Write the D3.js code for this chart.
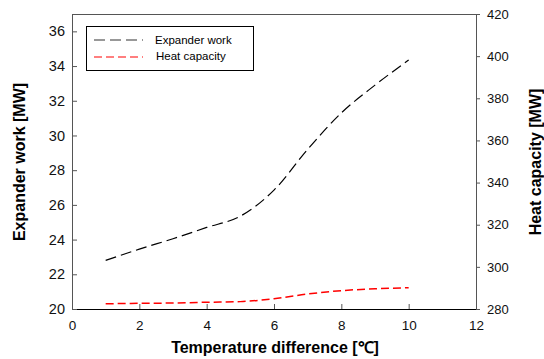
<!DOCTYPE html>
<html>
<head>
<meta charset="utf-8">
<script src="https://cdn.jsdelivr.net/npm/d3@7"></script>
<style>
  body { margin: 0; background: #fff; }
  text { font-family: "Liberation Sans", Arial, sans-serif; }
</style>
</head>
<body>
<div id="chart"></div>
<script>
// data
var tempDiff = [1, 2, 3, 4, 5, 6, 7, 8, 9, 10];
var expanderWork = [22.8, 23.45, 24.05, 24.7, 25.35, 26.85, 29.2, 31.3, 32.9, 34.35];
var heatCapacity = [282.5, 282.7, 282.85, 283.2, 283.5, 284.9, 287.1, 288.7, 289.6, 290.1];
var xTicks = [0, 2, 4, 6, 8, 10, 12];
var yLeftTicks = [20, 22, 24, 26, 28, 30, 32, 34, 36];
var yRightTicks = [280, 300, 320, 340, 360, 380, 400, 420];

var width = 544, height = 359;
var plotLeft = 72, plotRight = 476, plotTop = 14, plotBottom = 309;

var svg = d3.select('#chart').append('svg')
  .attr('width', width)
  .attr('height', height);

var x = d3.scaleLinear().domain([0, 12]).range([plotLeft, plotRight]);
var yL = d3.scaleLinear().domain([20, 37]).range([plotBottom, plotTop]);
var yR = d3.scaleLinear().domain([280, 420]).range([plotBottom, plotTop]);

// frame top
svg.append('line').attr('x1', plotLeft).attr('x2', plotRight)
  .attr('y1', plotTop + 0.5).attr('y2', plotTop + 0.5)
  .attr('stroke', '#555').attr('stroke-width', 1);

var xAxis = svg.append('g')
  .attr('transform', 'translate(0,' + plotBottom + ')')
  .call(d3.axisBottom(x).tickValues(xTicks).tickSizeInner(-5).tickSizeOuter(0).tickPadding(11));
var yAxisL = svg.append('g')
  .attr('transform', 'translate(' + plotLeft + ',0)')
  .call(d3.axisLeft(yL).tickValues(yLeftTicks).tickSizeInner(-5).tickSizeOuter(0).tickPadding(7));
var yAxisR = svg.append('g')
  .attr('transform', 'translate(' + plotRight + ',0)')
  .call(d3.axisRight(yR).tickValues(yRightTicks).tickSizeInner(4).tickSizeOuter(0).tickPadding(7));

[xAxis, yAxisL, yAxisR].forEach(function(g) {
  g.selectAll('text').attr('font-size', 13.5).attr('fill', '#111')
    .style('font-family', '"Liberation Sans", Arial, sans-serif');
  g.select('.domain').attr('stroke', '#555');
  g.selectAll('.tick line').attr('stroke', '#555');
});
yAxisL.selectAll('text').attr('font-size', 14.5);
yAxisR.selectAll('text').attr('font-size', 13);
yAxisL.select('.domain').attr('d', 'M0.5,' + plotTop + 'V' + plotBottom);
yAxisR.select('.domain').attr('d', 'M0.5,' + plotTop + 'V' + plotBottom);
xAxis.select('.domain').attr('stroke', '#000');

// lines
var lineL = d3.line()
  .x(function(d, i) { return x(tempDiff[i]); })
  .y(function(d) { return yL(d); })
  .curve(d3.curveMonotoneX);
var lineR = d3.line()
  .x(function(d, i) { return x(tempDiff[i]); })
  .y(function(d) { return yR(d); })
  .curve(d3.curveMonotoneX);

svg.append('path').datum(expanderWork)
  .attr('d', lineL)
  .attr('fill', 'none')
  .attr('stroke', '#000')
  .attr('stroke-width', 1.2)
  .attr('stroke-dasharray', '11,5');

svg.append('path').datum(heatCapacity)
  .attr('d', lineR)
  .attr('fill', 'none')
  .attr('stroke', '#f00')
  .attr('stroke-width', 1.5)
  .attr('stroke-dasharray', '8,4');

// legend
var legend = svg.append('g');
legend.append('rect')
  .attr('x', 86.5).attr('y', 26.5).attr('width', 167).attr('height', 44)
  .attr('fill', '#fff').attr('stroke', '#000').attr('stroke-width', 1);
legend.append('line').attr('x1', 94).attr('x2', 143).attr('y1', 40).attr('y2', 40)
  .attr('stroke', '#333').attr('stroke-width', 1.2).attr('stroke-dasharray', '11,5');
legend.append('line').attr('x1', 94).attr('x2', 143).attr('y1', 57).attr('y2', 57)
  .attr('stroke', '#f00').attr('stroke-width', 1.2).attr('stroke-dasharray', '8,4');
legend.append('text').attr('x', 155).attr('y', 44).attr('font-size', 11.5).text('Expander work');
legend.append('text').attr('x', 156).attr('y', 60).attr('font-size', 11.5).text('Heat capacity');

// axis titles
svg.append('text')
  .attr('x', 275).attr('y', 353)
  .attr('text-anchor', 'middle')
  .attr('font-size', 16).attr('font-weight', 'bold')
  .text('Temperature difference  [\u2103]');
svg.append('text')
  .attr('transform', 'translate(25,162) rotate(-90)')
  .attr('text-anchor', 'middle')
  .attr('font-size', 16).attr('font-weight', 'bold')
  .text('Expander work [MW]');
svg.append('text')
  .attr('transform', 'translate(541,162) rotate(-90)')
  .attr('text-anchor', 'middle')
  .attr('font-size', 16).attr('font-weight', 'bold')
  .text('Heat capacity [MW]');
</script>
</body>
</html>
